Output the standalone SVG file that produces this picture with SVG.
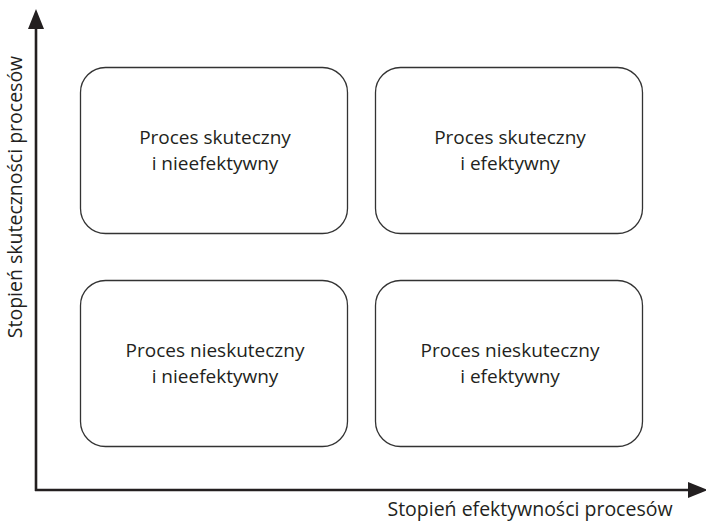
<svg xmlns="http://www.w3.org/2000/svg" width="706" height="523" viewBox="0 0 706 523">
<style>
.box{fill:#fff;stroke:#333;stroke-width:1.3}
.t{font-family:"Open Sans","Noto Sans",sans-serif;font-size:19px;fill:#231f20;text-anchor:middle}
.ax{stroke:#231f20;stroke-width:2.6;fill:none}
</style>
<defs>
<marker id="ah" markerUnits="userSpaceOnUse" markerWidth="20" markerHeight="16" refX="0" refY="8" orient="auto" viewBox="0 0 20 16">
<path d="M0,0 L20,8 L0,16 Z" fill="#231f20"/>
</marker>
</defs>
<rect width="706" height="523" fill="#fff"/>
<g id="connectors">
<path class="ax" d="M36,491 L36,29" marker-end="url(#ah)"/>
<path class="ax" d="M35,490 L688,490" marker-end="url(#ah)"/>
</g>
<g id="node1">
<rect class="box" x="80.5" y="67.5" width="267" height="166" rx="25"/>
<text class="t" x="215" y="144">Proces skuteczny</text>
<text class="t" x="215" y="170">i nieefektywny</text>
</g>
<g id="node2">
<rect class="box" x="375.5" y="67.5" width="267" height="166" rx="25"/>
<text class="t" x="510" y="144">Proces skuteczny</text>
<text class="t" x="510" y="170">i efektywny</text>
</g>
<g id="node3">
<rect class="box" x="80.5" y="280.5" width="267" height="166" rx="25"/>
<text class="t" x="215" y="357">Proces nieskuteczny</text>
<text class="t" x="215" y="383">i nieefektywny</text>
</g>
<g id="node4">
<rect class="box" x="375.5" y="280.5" width="267" height="166" rx="25"/>
<text class="t" x="510" y="357">Proces nieskuteczny</text>
<text class="t" x="510" y="383">i efektywny</text>
</g>
<g id="xlabel">
<text class="t" x="530" y="516" style="font-size:19.5px">Stopień efektywności procesów</text>
</g>
<g id="ylabel">
<text class="t" transform="translate(22,197) rotate(-90)" style="font-size:19.5px">Stopień skuteczności procesów</text>
</g>
</svg>
